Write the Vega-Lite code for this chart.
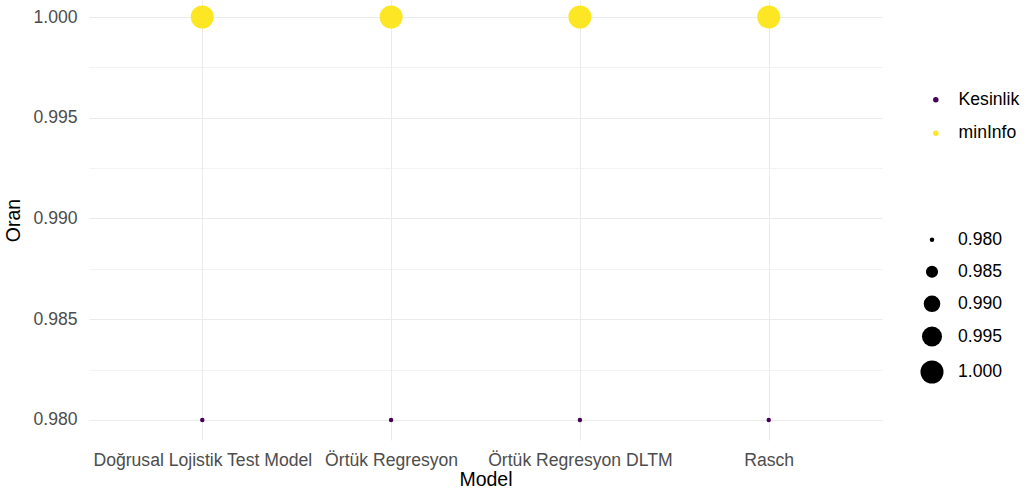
{
  "$schema": "https://vega.github.io/schema/vega-lite/v6.json",
  "autosize": "none",
  "width": 793,
  "height": 440,
  "padding": {"left": 89, "top": 0, "right": 146, "bottom": 53},
  "background": "white",
  "config": {
    "view": {"stroke": null},
    "font": "Liberation Sans",
    "axis": {"domain": false, "ticks": false, "labelColor": "#4D4D4D", "labelFontSize": 17.6, "titleFontSize": 19.5, "titleFontWeight": "normal", "titleColor": "black", "gridColor": "#EBEBEB", "labelLimit": 0},
    "legend": {"labelFontSize": 17.6, "labelColor": "black"}
  },
  "data": {"values": [
    {"Model": "Doğrusal Lojistik Test Model", "Metric": "Kesinlik", "Oran": 0.98},
    {"Model": "Örtük Regresyon", "Metric": "Kesinlik", "Oran": 0.98},
    {"Model": "Örtük Regresyon DLTM", "Metric": "Kesinlik", "Oran": 0.98},
    {"Model": "Rasch", "Metric": "Kesinlik", "Oran": 0.98},
    {"Model": "Doğrusal Lojistik Test Model", "Metric": "minInfo", "Oran": 1.0},
    {"Model": "Örtük Regresyon", "Metric": "minInfo", "Oran": 1.0},
    {"Model": "Örtük Regresyon DLTM", "Metric": "minInfo", "Oran": 1.0},
    {"Model": "Rasch", "Metric": "minInfo", "Oran": 1.0}
  ]},
  "mark": {"type": "circle", "opacity": 1},
  "encoding": {
    "x": {"field": "Model", "type": "nominal", "sort": null,
      "scale": {"type": "point", "padding": 0.6},
      "axis": {"labelAngle": 0, "labelPadding": 11, "titlePadding": 2, "grid": true, "gridWidth": 1, "labelLimit": 0}},
    "y": {"field": "Oran", "type": "quantitative",
      "scale": {"domain": [0.979007, 1.000844], "zero": false, "nice": false},
      "axis": {"values": [0.98, 0.9825, 0.985, 0.9875, 0.99, 0.9925, 0.995, 0.9975, 1.0],
        "labelExpr": "indexof(['0.9800','0.9850','0.9900','0.9950','1.0000'], format(datum.value,'.4f')) >= 0 ? format(datum.value,'.3f') : ''",
        "gridWidth": {"condition": {"test": "indexof(['0.9800','0.9850','0.9900','0.9950','1.0000'], format(datum.value,'.4f')) >= 0", "value": 1}, "value": 0.6},
        "labelPadding": 12, "titlePadding": 9}},
    "color": {"field": "Metric", "type": "nominal",
      "scale": {"domain": ["Kesinlik", "minInfo"], "range": ["#440154", "#FDE725"]},
      "legend": {"title": null, "orient": "none", "legendX": 838, "legendY": 91, "symbolSize": 30, "symbolType": "circle", "labelOffset": 14, "rowPadding": 14.4}},
    "size": {"field": "Oran", "type": "quantitative",
      "scale": {"domain": [0.98, 1.0], "range": [20, 530], "zero": false, "nice": false},
      "legend": {"title": null, "orient": "none", "legendX": 831, "legendY": 231, "values": [0.98, 0.985, 0.99, 0.995, 1.0], "format": ".3f", "symbolFillColor": "black", "symbolStrokeWidth": 0, "symbolType": "circle", "labelOffset": 14, "rowPadding": 13}}
  }
}
